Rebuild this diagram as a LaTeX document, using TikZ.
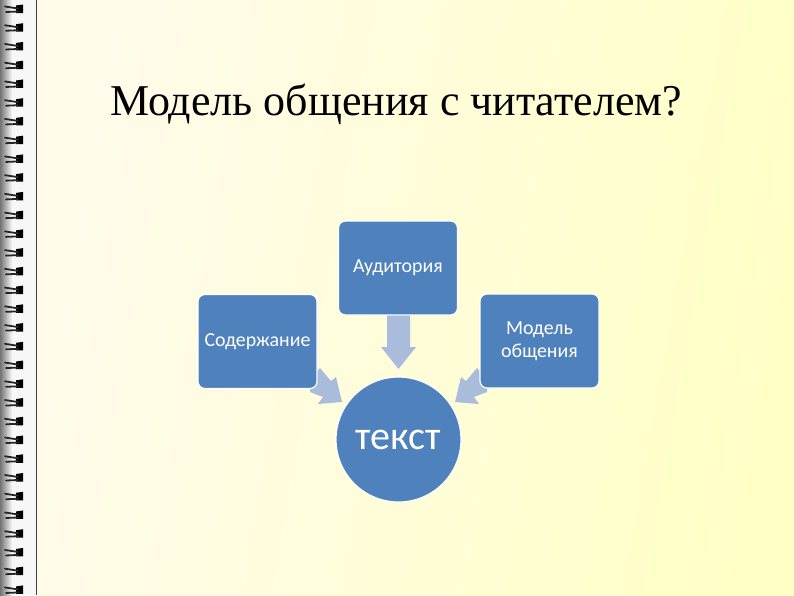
\documentclass[tikz,border=0pt]{standalone}
\usepackage{fontspec}
\setmainfont{Liberation Serif}
\newfontfamily\boxfont{Carlito}
\usetikzlibrary{calc}
\definecolor{boxblue}{HTML}{4F81BD}
\definecolor{arrowblue}{HTML}{A9BCDB}
\definecolor{paperl}{HTML}{FFFBEB}
\definecolor{paperr}{HTML}{FFFFC6}
\tikzset{
  cardbox/.style={draw=white,line width=1.2pt,fill=boxblue,rounded corners=7pt,minimum width=119pt,minimum height=94pt,inner sep=0pt,align=center,text=white,font=\boxfont\fontsize{19.9}{23}\selectfont},
  hubnode/.style={circle,draw=white,line width=1.2pt,fill=boxblue,minimum size=125pt,inner sep=0pt,text=white,font=\boxfont\fontsize{40}{46}\selectfont},
  flowarrow/.style={fill=arrowblue,draw=none},
  ringblob/.style={fill=black,draw=none},
  ringstrand/.style={draw=black!85,line width=1.8pt,line cap=round},
}
\begin{document}
\begin{tikzpicture}[x=1pt,y=-1pt]
\useasboundingbox (0,0) rectangle (794,595);
% page
\shade[left color=paperl,right color=paperr,shading angle=80] (36,0) rectangle (794,595);
\fill[white!97!black] (0,0) rectangle (36,595);
\shade[left color=black!55,middle color=black!40,right color=black!3] (0,0) rectangle (12,595);
\draw[black!75,line width=1.3pt] (36.5,0) -- (36.5,595);
% rings
\foreach \i in {0,...,31}{
  \pgfmathsetmacro{\yy}{9+18.74*\i}
  \fill[ringblob] (16,\yy-3.5) -- (23,\yy-4.5) -- (23,\yy+4) -- (16,\yy+4) -- cycle;
  \draw[ringstrand] (5,\yy-2.5) -- (18,\yy-0.5);
  \draw[ringstrand] (6,\yy+3) -- (18,\yy+2.5);
}
% title
\node[anchor=base west,inner sep=0pt,font=\fontsize{44}{50}\selectfont] (title) at (110,115) {Модель общения с читателем?};
% arrows
\fill[flowarrow] (387,314) -- (410,314) -- (410,347) -- (416,347) -- (398.5,369) -- (381,347) -- (387,347) -- cycle;
\fill[flowarrow] (310,378) -- (320,368) -- (331,381) -- (336,377) -- (342,402) -- (318,404) -- (323,397) -- (310,392) -- cycle;
\fill[flowarrow] (487,378) -- (477,368) -- (466,381) -- (461,377) -- (455,402) -- (479,404) -- (474,397) -- (487,392) -- cycle;
% boxes
\node[cardbox] (aud) at (398,268) {Аудитория};
\node[cardbox] (cont) at (257.5,341.5) {Содержание};
\node[cardbox] (model) at (539.5,341) {Модель\\общения};
\node[hubnode] (hub) at (398.5,439.5) {\raisebox{-2pt}{текст}};
\end{tikzpicture}
\end{document}
